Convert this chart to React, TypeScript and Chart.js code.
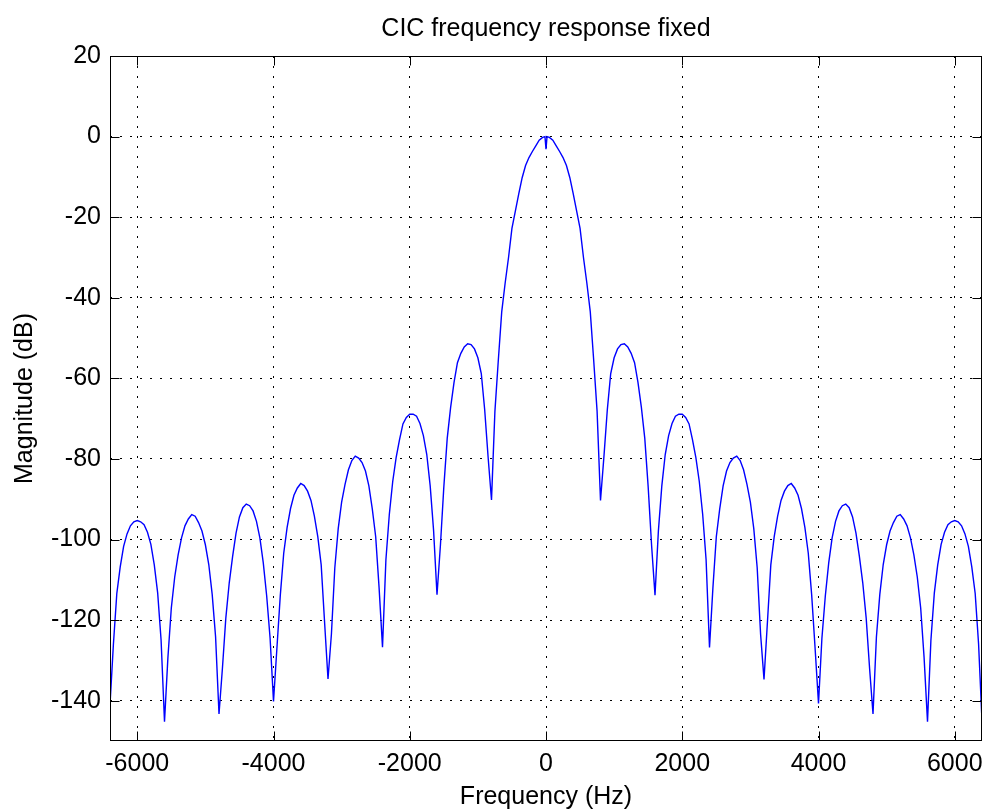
import { useEffect, useRef } from "react";
import { Chart, registerables } from "chart.js";

Chart.register(...registerables);

const chartTitle = "CIC frequency response fixed";
const xAxisTitle = "Frequency (Hz)";
const yAxisTitle = "Magnitude (dB)";

const xTickValues = [-6000, -4000, -2000, 0, 2000, 4000, 6000];
const yTickValues = [20, 0, -20, -40, -60, -80, -100, -120, -140];
const xRange = [-6400, 6400];
const yRange = [-150, 20];

const freqHz = [
  -6400, -6350, -6300, -6250, -6200, -6150, -6100, -6050, -6000, -5950, -5900, -5850, -5800, -5750, -5700, -5650,
  -5600, -5550, -5500, -5450, -5400, -5350, -5300, -5250, -5200, -5150, -5100, -5050, -5000, -4950, -4900, -4850,
  -4800, -4750, -4700, -4650, -4600, -4550, -4500, -4450, -4400, -4350, -4300, -4250, -4200, -4150, -4100, -4050,
  -4000, -3950, -3900, -3850, -3800, -3750, -3700, -3650, -3600, -3550, -3500, -3450, -3400, -3350, -3300, -3250,
  -3200, -3150, -3100, -3050, -3000, -2950, -2900, -2850, -2800, -2750, -2700, -2650, -2600, -2550, -2500, -2450,
  -2400, -2350, -2300, -2250, -2200, -2150, -2100, -2050, -2000, -1950, -1900, -1850, -1800, -1750, -1700, -1650,
  -1600, -1550, -1500, -1450, -1400, -1350, -1300, -1250, -1200, -1150, -1100, -1050, -1000, -950, -900, -850,
  -800, -750, -700, -650, -600, -550, -500, -450, -400, -350, -300, -250, -200, -150, -100, -50,
  -15, 0, 15,
  50, 100, 150, 200, 250, 300, 350, 400, 450, 500, 550, 600, 650, 700, 750, 800,
  850, 900, 950, 1000, 1050, 1100, 1150, 1200, 1250, 1300, 1350, 1400, 1450, 1500, 1550, 1600,
  1650, 1700, 1750, 1800, 1850, 1900, 1950, 2000, 2050, 2100, 2150, 2200, 2250, 2300, 2350, 2400,
  2450, 2500, 2550, 2600, 2650, 2700, 2750, 2800, 2850, 2900, 2950, 3000, 3050, 3100, 3150, 3200,
  3250, 3300, 3350, 3400, 3450, 3500, 3550, 3600, 3650, 3700, 3750, 3800, 3850, 3900, 3950, 4000,
  4050, 4100, 4150, 4200, 4250, 4300, 4350, 4400, 4450, 4500, 4550, 4600, 4650, 4700, 4750, 4800,
  4850, 4900, 4950, 5000, 5050, 5100, 5150, 5200, 5250, 5300, 5350, 5400, 5450, 5500, 5550, 5600,
  5650, 5700, 5750, 5800, 5850, 5900, 5950, 6000, 6050, 6100, 6150, 6200, 6250, 6300, 6350, 6400,
];

const magnitudeDb = [
  -141, -126, -113.4, -106.8, -101.7, -98.6, -96.6, -95.6, -95.3, -95.6, -96.3, -98.2, -101.2, -106.3, -113.3, -125,
  -145.2, -129.3, -117, -109.3, -103.8, -99.6, -96.6, -94.9, -93.8, -94.2, -95.8, -97.9, -101.3, -106.2, -113.6, -124.2,
  -143.3, -132, -119.5, -110.8, -104.2, -98.4, -94.4, -92.1, -91.2, -91.6, -92.9, -95.5, -99.6, -105.8, -114, -124.5,
  -140.2, -127, -113.8, -103.4, -97, -92.3, -89, -87.2, -86.1, -86.6, -88, -90.3, -94.2, -99.3, -106.3, -120.6,
  -134.6, -123.5, -107, -97.3, -90.7, -86.3, -82.7, -80.4, -79.3, -79.8, -80.9, -83, -86.7, -92.4, -99.3, -112,
  -126.7, -105, -93.8, -85.6, -79.7, -75.2, -71.3, -69.7, -68.9, -68.9, -69.4, -71.2, -74.2, -78.9, -86.7, -97.8,
  -113.7, -101.5, -87, -74.9, -67.2, -61, -56.1, -53.8, -52.2, -51.4, -51.6, -52.7, -54.9, -58.8, -67.8, -79.5,
  -90.2, -68.2, -55.5, -43.5, -36.4, -30, -22.8, -18.5, -14.2, -10.2, -7.2, -5.2, -3.7, -2.3, -0.9, -0.2,
  0, -3.1, 0,
  -0.2, -0.9, -2.3, -3.7, -5.2, -7.2, -10.2, -14.2, -18.5, -22.8, -30, -36.4, -43.5, -55.5, -68.2, -90.3,
  -79.5, -67.8, -58.8, -54.9, -52.7, -51.6, -51.4, -52.2, -53.8, -56.1, -61, -67.2, -74.9, -87, -101.5, -113.8,
  -97.8, -86.7, -78.9, -74.2, -71.2, -69.4, -68.9, -68.9, -69.7, -71.3, -75.2, -79.7, -85.6, -93.8, -105, -126.8,
  -112, -99.3, -92.4, -86.7, -83, -80.9, -79.8, -79.3, -80.4, -82.7, -86.3, -90.7, -97.3, -107, -123.5, -134.7,
  -120.6, -106.3, -99.3, -94.2, -90.3, -88, -86.6, -86.1, -87.2, -89, -92.3, -97, -103.4, -113.8, -127, -140.7,
  -124.5, -114, -105.8, -99.6, -95.5, -92.9, -91.6, -91.2, -92.1, -94.4, -98.4, -104.2, -110.8, -119.5, -132, -143.3,
  -124.2, -113.6, -106.2, -101.3, -97.9, -95.8, -94.2, -93.8, -94.9, -96.6, -99.6, -103.8, -109.3, -117, -129.3, -145.2,
  -125, -113.3, -106.3, -101.2, -98.2, -96.3, -95.6, -95.3, -95.6, -96.6, -98.6, -101.7, -106.8, -113.4, -126, -145,
];

const FONT_FAMILY = "'Liberation Sans', Arial, Helvetica, sans-serif";

const matlabBoxPlugin = {
  id: "matlabBox",
  afterDraw(chart: any) {
    const { ctx, chartArea: a, scales } = chart;
    const len = 9;
    ctx.save();
    ctx.strokeStyle = "#000";
    ctx.lineWidth = 1;
    ctx.setLineDash([]);
    const l = Math.round(a.left) + 0.5;
    const r = Math.round(a.right) - 0.5;
    const t = Math.round(a.top) + 0.5;
    const b = Math.round(a.bottom) - 0.5;
    ctx.strokeRect(l, t, r - l, b - t);
    ctx.beginPath();
    scales.x.ticks.forEach((tk: any) => {
      const px = Math.round(scales.x.getPixelForValue(tk.value)) + 0.5;
      ctx.moveTo(px, b);
      ctx.lineTo(px, b - len);
      ctx.moveTo(px, t);
      ctx.lineTo(px, t + len);
    });
    scales.y.ticks.forEach((tk: any) => {
      const py = Math.round(scales.y.getPixelForValue(tk.value)) + 0.5;
      ctx.moveTo(l, py);
      ctx.lineTo(l + len, py);
      ctx.moveTo(r, py);
      ctx.lineTo(r - len, py);
    });
    ctx.stroke();
    ctx.restore();
  },
};

export default function App() {
  const canvasRef = useRef<HTMLCanvasElement | null>(null);

  useEffect(() => {
    const canvas = canvasRef.current;
    if (!canvas) return;
    const points = freqHz.map((f, i) => ({ x: f, y: magnitudeDb[i] }));
    const font = { family: FONT_FAMILY, size: 25, weight: "normal" as const };
    const chart = new Chart(canvas, {
      type: "line",
      data: {
        datasets: [
          {
            data: points,
            borderColor: "#0000ff",
            borderWidth: 1.4,
            pointRadius: 0,
            tension: 0,
            fill: false,
          },
        ],
      },
      options: {
        animation: false,
        responsive: false,
        devicePixelRatio: 1,
        layout: { padding: { left: 0, right: 1, top: 0, bottom: 0 } },
        plugins: {
          legend: { display: false },
          tooltip: { enabled: false },
          title: {
            display: true,
            fullSize: false,
            text: chartTitle,
            color: "#000",
            font,
            padding: { top: 14, bottom: 12 },
          },
        },
        scales: {
          x: {
            type: "linear",
            min: xRange[0],
            max: xRange[1],
            afterBuildTicks: (s: any) => {
              s.ticks = xTickValues.map((v) => ({ value: v }));
            },
            afterFit: (s: any) => {
              s.height = 71;
              s.paddingLeft = 0;
              s.paddingRight = 0;
            },
            grid: { color: "#000", lineWidth: 1, drawTicks: false },
            border: { display: false, dash: [2, 8] },
            ticks: {
              color: "#000",
              font,
              padding: 8,
              maxRotation: 0,
              autoSkip: false,
              callback: (v: any) => String(v),
            },
            title: {
              display: true,
              text: xAxisTitle,
              color: "#000",
              font,
              padding: { top: 0, bottom: 0 },
            },
          },
          y: {
            type: "linear",
            min: yRange[0],
            max: yRange[1],
            afterBuildTicks: (s: any) => {
              s.ticks = yTickValues.map((v) => ({ value: v }));
            },
            afterFit: (s: any) => {
              s.width = 110;
              s.paddingTop = 0;
              s.paddingBottom = 0;
            },
            grid: { color: "#000", lineWidth: 1, drawTicks: false },
            border: { display: false, dash: [2, 8] },
            ticks: {
              color: "#000",
              font,
              padding: 9,
              autoSkip: false,
              callback: (v: any) => String(v),
            },
            title: {
              display: true,
              text: yAxisTitle,
              color: "#000",
              font,
              padding: { top: 10, bottom: 0 },
            },
          },
        },
      },
      plugins: [matlabBoxPlugin],
    });
    return () => chart.destroy();
  }, []);

  return (
    <div style={{ position: "fixed", left: 0, top: 0, width: 983, height: 812, background: "#fff" }}>
      <canvas ref={canvasRef} width={983} height={812} style={{ display: "block" }} />
    </div>
  );
}
